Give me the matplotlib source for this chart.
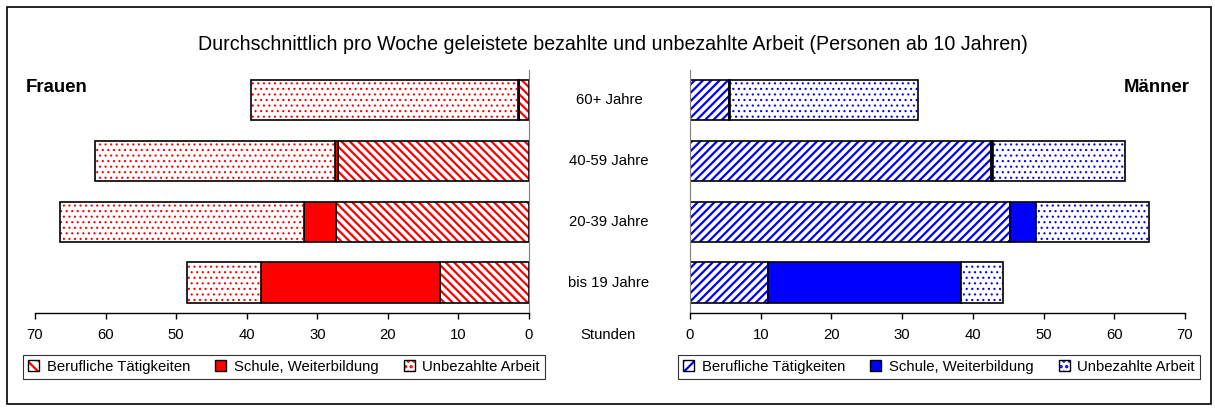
import matplotlib.pyplot as plt
from matplotlib.patches import Patch, Rectangle
from matplotlib.transforms import blended_transform_factory

# Werte (Stunden pro Woche)
groups = ['bis 19 Jahre', '20-39 Jahre', '40-59 Jahre', '60+ Jahre']
frauen_beruf = [12.6, 27.4, 27.1, 1.4]
frauen_schule = [25.4, 4.5, 0.4, 0.2]
frauen_unbez = [10.5, 34.5, 34.0, 37.8]
maenner_beruf = [11.1, 45.3, 42.5, 5.5]
maenner_schule = [27.2, 3.6, 0.4, 0.2]
maenner_unbez = [6.0, 16.0, 18.6, 26.5]
ticks = [0, 10, 20, 30, 40, 50, 60, 70]
legend_labels = ['Berufliche Tätigkeiten', 'Schule, Weiterbildung', 'Unbezahlte Arbeit']

plt.rcParams['font.family'] = ['Liberation Sans', 'DejaVu Sans']
plt.rcParams['hatch.linewidth'] = 1.6

W, H = 1215, 412
FS = 10.7
fig = plt.figure(figsize=(W / 100, H / 100), dpi=100)

ax_f = fig.add_axes([35 / W, 1 - 313 / H, 494 / W, 243.5 / H])
ax_m = fig.add_axes([690 / W, 1 - 313 / H, 495 / W, 243.5 / H])

RED = '#ff0000'
BLUE = '#0000ff'
DOTS = '...'
bar_h = 0.66
y = list(range(len(groups)))


def thin_dots(patches, hatch):
    if hatch == DOTS:
        for p in patches:
            if hasattr(p, 'set_hatch_linewidth'):
                p.set_hatch_linewidth(0.8)


def draw_stack(ax, beruf, schule, unbez, color, stripe):
    left = [0] * len(beruf)
    parts = [(beruf, stripe, 'white'), (schule, '', color), (unbez, DOTS, 'white')]
    for vals, hatch, face in parts:
        # hatch in colour first, black outline on top
        bars = ax.barh(y, vals, left=left, height=bar_h, color=face, hatch=hatch,
                       edgecolor=color, linewidth=0)
        thin_dots(bars, hatch)
        ax.barh(y, vals, left=left, height=bar_h, fill=False,
                edgecolor='black', linewidth=1.2)
        left = [l + v for l, v in zip(left, vals)]


draw_stack(ax_f, frauen_beruf, frauen_schule, frauen_unbez, RED, '\\\\\\\\')
draw_stack(ax_m, maenner_beruf, maenner_schule, maenner_unbez, BLUE, '////')

ax_f.set_xlim(70, 0)
ax_m.set_xlim(0, 70)
for ax in (ax_f, ax_m):
    ax.set_ylim(-0.5, 3.5)
    ax.set_yticks([])
    ax.set_xticks(ticks)
    ax.tick_params(axis='x', labelsize=FS, length=4, pad=7, width=1)
    ax.spines['top'].set_visible(False)
    ax.spines['bottom'].set_linewidth(1)
ax_f.spines['left'].set_visible(False)
ax_f.spines['right'].set_color('#808080')
ax_m.spines['right'].set_visible(False)
ax_m.spines['left'].set_color('#808080')

# Altersgruppen in der Mitte
trans = blended_transform_factory(fig.transFigure, ax_f.transData)
for i, g in enumerate(groups):
    ax_f.text(609 / W, i, g, transform=trans, ha='center', va='center', fontsize=FS)
fig.text(608.5 / W, 1 - 335 / H, 'Stunden', ha='center', va='center', fontsize=FS)

fig.text(613 / W, 1 - 44 / H,
         'Durchschnittlich pro Woche geleistete bezahlte und unbezahlte Arbeit (Personen ab 10 Jahren)',
         ha='center', va='center', fontsize=14.1)
fig.text(26 / W, 1 - 87 / H, 'Frauen', ha='left', va='center', fontsize=13.4, fontweight='bold')
fig.text(1190 / W, 1 - 87 / H, 'Männer', ha='right', va='center', fontsize=13.4, fontweight='bold')


def handles(color, stripe):
    out = []
    for hatch, face in [(stripe, 'white'), ('', color), (DOTS, 'white')]:
        p = Patch(facecolor=face, hatch=hatch, edgecolor=color, linewidth=0)
        thin_dots([p], hatch)
        out.append((p, Patch(fill=False, edgecolor='black', linewidth=1)))
    return out


for hs, cx in [(handles(RED, '\\\\\\'), 284), (handles(BLUE, '///'), 939)]:
    leg = fig.legend(hs, legend_labels, loc='center', bbox_to_anchor=(cx / W, 1 - 367 / H),
                     ncol=3, fontsize=FS, frameon=True, fancybox=False,
                     handlelength=0.75, handleheight=0.75, handletextpad=0.5,
                     columnspacing=1.7, borderpad=0.35, borderaxespad=0)
    leg.get_frame().set_edgecolor('black')
    leg.get_frame().set_linewidth(0.8)

fig.patches.append(Rectangle((7 / W, 1 - 404 / H), 1204 / W, 397 / H, transform=fig.transFigure,
                             fill=False, edgecolor='black', linewidth=1.2))

fig.savefig('out.png', dpi=100)
